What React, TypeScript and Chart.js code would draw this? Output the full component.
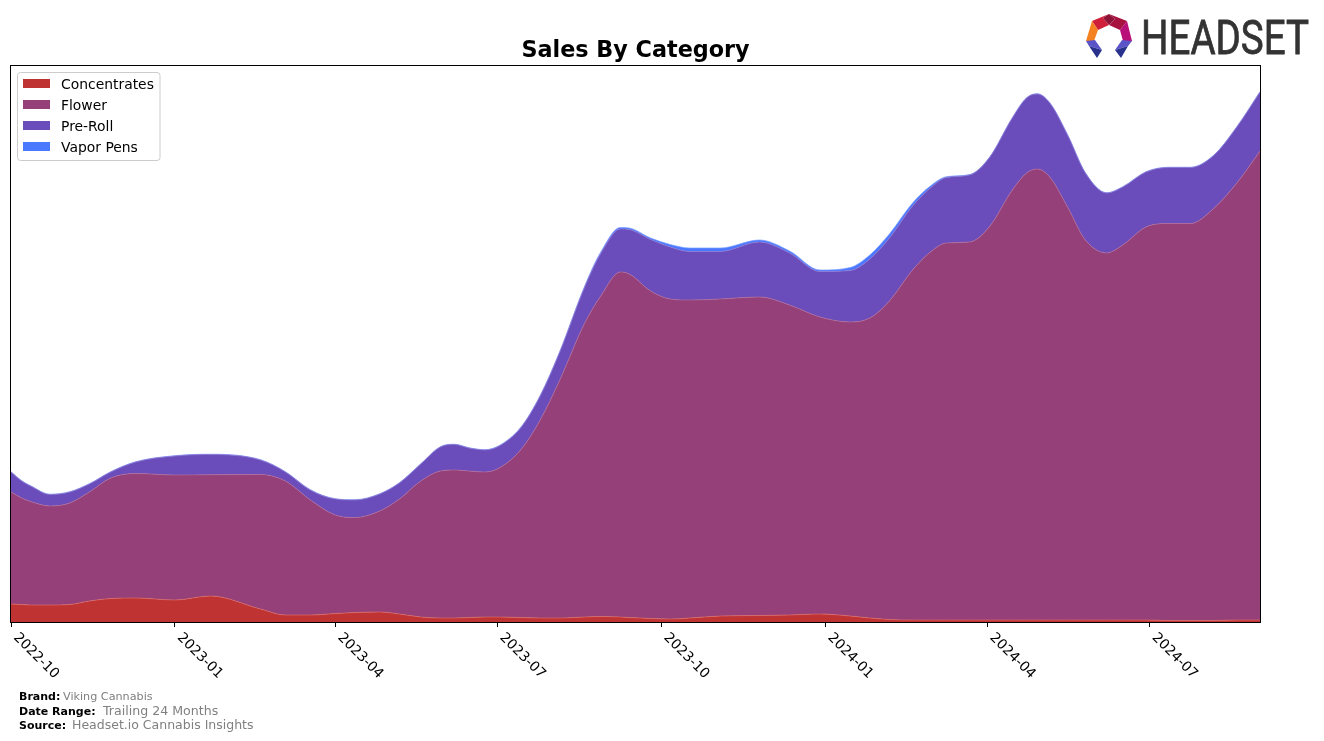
import React, { useEffect, useRef } from "react";
import { Chart, registerables } from "chart.js";

Chart.register(...registerables);

const days = [0,6,11,22,33,44,56,70,92,112,140,154,168,182,193,207,218,230,241,249,257,266,274,286,297,308,322,331,342,347,359,370,381,398,420,437,454,471,482,493,506,516,525,538,549,562,570,576,583,593,603,615,624,637,650,662,675,688,701];
const concentrates = [18,17.5,17,17,17.5,21,23.5,24,22,26,13,7,7,8.5,9.5,10,8,5,4,4,4.5,5,5,4.5,4,4,5,5.5,5,4.5,3.5,3,4,6,6.5,7,8,6,4,2.5,2,2,2,2,2,2,2,2,2,2,2,2,2,2,1.5,1.5,1.5,2,2];
const flower = [112,106.5,103.5,99,101.5,109,120.5,124.5,125,121.3,134.5,134,115,98.5,95,101,115,136,147,148,146.5,145,149,167.5,198,238,294,320.5,345,343.5,327.5,320,318,317,318.5,310,297,294,300,318.5,350,368,377,378,393,430,447,451,443,413,380,367,375,393,397,397,412,437,469];
const preRoll = [20,17,15.5,11.5,11,8,6,11.5,19,20.2,14.5,9,10,16,17.5,17,16,17,24,25.5,23,22,22,22,24,28,36,42.5,43,44.5,51.5,52,48.5,47.5,55,52,45.5,51.5,59,63,64,64,65.5,67,69,72,75,75,74,72,67,60,58,55,56,56,53,56,59];
const vaporPens = [0.3,0.3,0.3,0.3,0.3,0.3,0.3,0.3,0.3,0.3,0.3,0.3,0.3,0.3,0.3,0.3,0.3,0.3,0.3,0.3,0.3,0.3,0.4,0.4,0.5,0.5,1,1.5,1.5,1.5,1.5,2.5,3.5,3.5,2,2,1.5,3,4,4,3,2,0.8,0.4,0.3,0.3,0.3,0.3,0.3,0.3,0.3,0.3,0.3,0.3,0.3,0.3,0.3,0.3,0.3];

const tickDays = [0, 92, 182, 273, 365, 457, 548, 639];
const tickLabels = ["2022-10", "2023-01", "2023-04", "2023-07", "2023-10", "2024-01", "2024-04", "2024-07"];
const seriesNames = ["Concentrates", "Flower", "Pre-Roll", "Vapor Pens"];
const seriesValues = [concentrates, flower, preRoll, vaporPens];
const seriesColors = ["#c03333", "#954079", "#6a4dbb", "#4a78ff"];
const edgeColors = ["#d96a6a", "#b06a9c", "#8f78d4", "#7d9eff"];

const FONT = '"DejaVu Sans"';

const overlayPlugin = {
  id: "overlay",
  afterDraw(chart: any) {
    const { ctx, chartArea: a, scales } = chart;
    ctx.save();
    // axes frame
    ctx.strokeStyle = "#000";
    ctx.lineWidth = 1;
    ctx.strokeRect(a.left - 0.5, a.top - 0.5, a.right - a.left + 1, a.bottom - a.top + 1);
    // rotated tick labels
    ctx.fillStyle = "#000";
    ctx.font = `13.9px ${FONT}`;
    ctx.textAlign = "left";
    ctx.textBaseline = "middle";
    tickDays.forEach((d, i) => {
      ctx.save();
      ctx.translate(scales.x.getPixelForValue(d) + 4.5, a.bottom + 13.5);
      ctx.rotate(Math.PI / 4);
      ctx.fillText(tickLabels[i], 0, 0);
      ctx.restore();
    });
    // legend
    ctx.beginPath();
    ctx.roundRect(17.5, 72.5, 142.5, 88, 3);
    ctx.fillStyle = "rgba(255,255,255,0.8)";
    ctx.fill();
    ctx.strokeStyle = "#cccccc";
    ctx.stroke();
    seriesNames.forEach((name, i) => {
      const y = 84 + i * 21;
      ctx.fillStyle = seriesColors[i];
      ctx.fillRect(23, y - 5, 27, 9);
      ctx.fillStyle = "#000";
      ctx.textBaseline = "middle";
      ctx.fillText(name, 61, y + 1.5);
    });
    ctx.restore();
  },
};

const foot: React.CSSProperties = { position: "absolute", fontFamily: FONT, whiteSpace: "nowrap", lineHeight: "14px" };
const boldFoot: React.CSSProperties = { ...foot, fontSize: 11, fontWeight: 700, color: "#000" };
const grayFoot: React.CSSProperties = { ...foot, color: "#808080" };

export default function App() {
  const ref = useRef<HTMLCanvasElement>(null);
  useEffect(() => {
    document.body.style.margin = "0";
    document.body.style.overflow = "hidden";
    const chart = new Chart(ref.current as HTMLCanvasElement, {
      type: "line",
      data: {
        datasets: seriesNames.map((label, i) => ({
          label,
          data: days.map((d, j) => ({ x: d, y: seriesValues[i][j] })),
          backgroundColor: seriesColors[i],
          borderColor: edgeColors[i],
          borderWidth: 0.7,
          pointRadius: 0,
          cubicInterpolationMode: "monotone",
          fill: i === 0 ? "origin" : "-1",
        })),
      },
      options: {
        responsive: false,
        animation: false,
        layout: { padding: { left: 11, right: 64, top: 0, bottom: 114 } },
        plugins: {
          legend: { display: false },
          tooltip: { enabled: false },
          title: {
            display: true,
            text: "Sales By Category",
            color: "#000",
            font: { family: FONT, size: 22.3, weight: "bold", lineHeight: 1.2 },
            padding: { top: 38, bottom: 1.24 },
          },
        },
        scales: {
          x: {
            type: "linear",
            min: 0,
            max: 701,
            afterBuildTicks: (s: any) => {
              s.ticks = tickDays.map((value) => ({ value }));
            },
            ticks: { display: false },
            border: { display: false },
            grid: { drawOnChartArea: false, drawTicks: true, tickLength: 5, color: "#000", tickWidth: 1 },
          },
          y: { stacked: true, min: 0, max: 556, display: false },
        },
      },
      plugins: [overlayPlugin],
    } as any);
    return () => chart.destroy();
  }, []);

  return (
    <div style={{ position: "absolute", left: 0, top: 0, width: 1324, height: 741, background: "#fff" }}>
      <canvas ref={ref} width={1324} height={741} style={{ display: "block", width: 1324, height: 741 }} />
      <svg width={1324} height={65} style={{ position: "absolute", left: 0, top: 0 }}>
        <polygon points="1092,21 1109,14 1103,18 1109,25 1098,30" fill="#cf1f3a" />
        <polygon points="1109,14 1103,18 1109,25 1115,19" fill="#8c1238" />
        <polygon points="1109,14 1127,21 1120,30 1109,25 1115,19" fill="#a8123f" />
        <polygon points="1127,21 1132,41 1123,41 1120,30" fill="#b80f78" />
        <polygon points="1092,21 1098,30 1094,41 1086,41" fill="#f58220" />
        <polygon points="1086,41 1095,40 1102,50 1089,46" fill="#5a54c8" />
        <polygon points="1089,46 1102,50 1097,58" fill="#28328c" />
        <polygon points="1132,41 1122,40 1115,50 1128,46" fill="#5a54c8" />
        <polygon points="1128,46 1115,50 1121,58" fill="#28328c" />
        <text x={1141} y={54} textLength={168} lengthAdjust="spacingAndGlyphs" fontFamily="Roboto" fontWeight={400} fontSize={48} fill="#333333" stroke="#333333" strokeWidth={0.8}>HEADSET</text>
      </svg>
      <span style={{ ...boldFoot, left: 19, top: 690 }}>Brand:</span>
      <span style={{ ...grayFoot, left: 63, top: 690, fontSize: 11.2 }}>Viking Cannabis</span>
      <span style={{ ...boldFoot, left: 19, top: 705 }}>Date Range:</span>
      <span style={{ ...grayFoot, left: 103, top: 704, fontSize: 12.6 }}>Trailing 24 Months</span>
      <span style={{ ...boldFoot, left: 19, top: 719 }}>Source:</span>
      <span style={{ ...grayFoot, left: 72, top: 718, fontSize: 12.5 }}>Headset.io Cannabis Insights</span>
    </div>
  );
}
